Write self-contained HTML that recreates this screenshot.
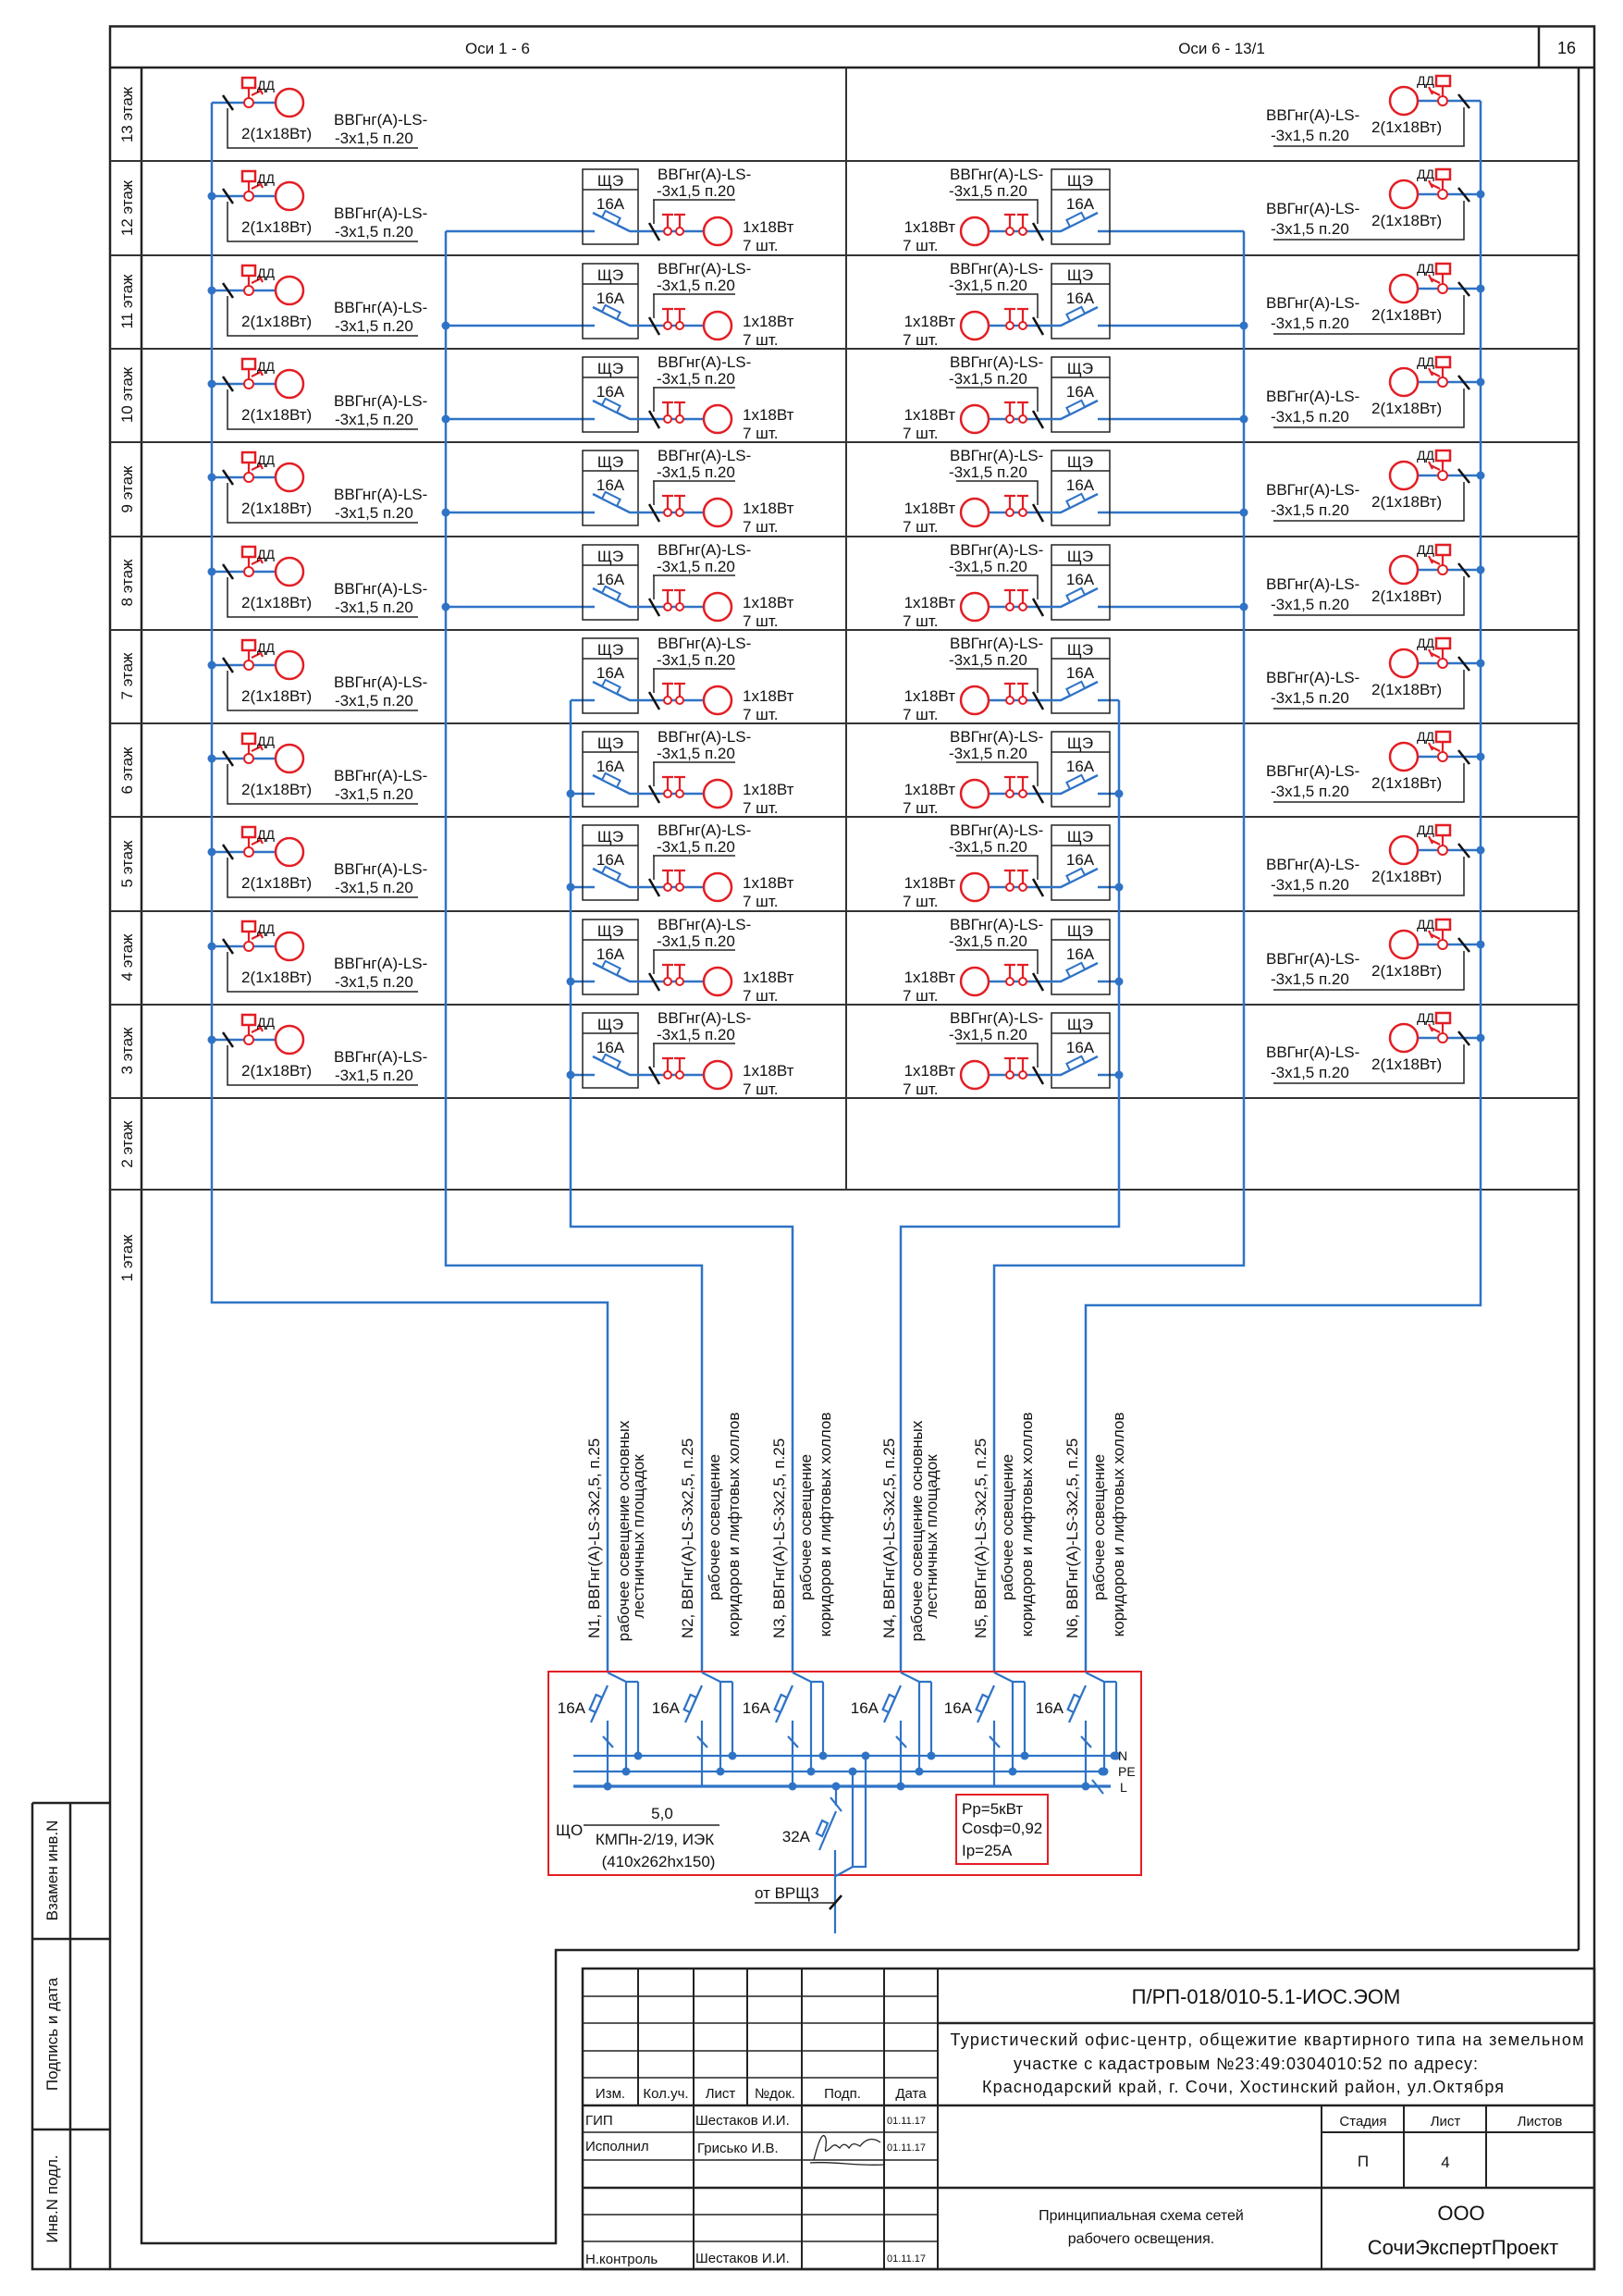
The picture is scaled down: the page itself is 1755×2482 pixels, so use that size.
<!DOCTYPE html>
<html><head><meta charset="utf-8">
<style>
html,body{margin:0;padding:0;background:#fff;}
svg{display:block;}
text{font-family:"Liberation Sans",sans-serif;font-size:17px;fill:#111;}
.s{font-size:14px;}
.m{text-anchor:middle;}
.e{text-anchor:end;}
.t15{font-size:15px;}
.t11{font-size:11px;}
</style></head><body>
<svg width="1755" height="2482" viewBox="0 0 1755 2482" xmlns="http://www.w3.org/2000/svg">
<defs>
<g id="LF">
 <path d="M229,38 H298" stroke="#2f73c6" stroke-width="2.5" fill="none"/>
 <path d="M241,30 L252,46" stroke="#111" stroke-width="2.5"/>
 <path d="M246,44 V87 H452" stroke="#222" stroke-width="1.5" fill="none"/>
 <path d="M269,33 V22 M272,30 L282,25 M280,21 L284,29" stroke="#e31e24" stroke-width="2.2" fill="none"/>
 <rect x="262" y="11" width="14" height="11" stroke="#e31e24" stroke-width="2.5" fill="#fff"/>
 <circle cx="269" cy="38" r="5" stroke="#e31e24" stroke-width="2" fill="#fff"/>
 <circle cx="313" cy="38" r="15" stroke="#e31e24" stroke-width="2.5" fill="none"/>
</g>
<g id="RF">
 <path d="M1533,36 H1601" stroke="#2f73c6" stroke-width="2.5" fill="none"/>
 <path d="M1577,29 L1589,44" stroke="#111" stroke-width="2.5"/>
 <path d="M1583,43 V85 H1377" stroke="#222" stroke-width="1.5" fill="none"/>
 <path d="M1560,31 V20 M1557,30 L1547,25 M1545,21 L1549,29" stroke="#e31e24" stroke-width="2.2" fill="none"/>
 <rect x="1553" y="9" width="15" height="11" stroke="#e31e24" stroke-width="2.5" fill="#fff"/>
 <circle cx="1560" cy="36" r="5" stroke="#e31e24" stroke-width="2" fill="#fff"/>
 <circle cx="1518" cy="36" r="15" stroke="#e31e24" stroke-width="2.5" fill="none"/>
</g>
<g id="ML">
 <rect x="630" y="9" width="60" height="81" stroke="#222" stroke-width="1.5" fill="none"/>
 <path d="M630,31 H690" stroke="#222" stroke-width="1.5"/>
 <path d="M641,56 L681,76 H761" stroke="#2f73c6" stroke-width="2.5" fill="none"/>
 <polygon points="651,61 667,69 670.6,61.8 654.6,53.8" stroke="#2f73c6" stroke-width="2" fill="#fff"/>
 <path d="M706,42 H795 M707,42 V68" stroke="#222" stroke-width="1.5" fill="none"/>
 <path d="M702,67 L713,86" stroke="#111" stroke-width="2.5"/>
 <path d="M722,58 V72 M735,58 V72 M716,58 H728 M729,58 H741" stroke="#e31e24" stroke-width="2.2" fill="none"/>
 <circle cx="722" cy="76" r="4" stroke="#e31e24" stroke-width="2" fill="#fff"/>
 <circle cx="735" cy="76" r="4" stroke="#e31e24" stroke-width="2" fill="#fff"/>
 <circle cx="776" cy="76" r="15" stroke="#e31e24" stroke-width="2.5" fill="none"/>
</g>
<g id="MR">
 <rect x="1137" y="9" width="63" height="81" stroke="#222" stroke-width="1.5" fill="none"/>
 <path d="M1137,31 H1200" stroke="#222" stroke-width="1.5"/>
 <path d="M1069,76 H1147 L1187,56" stroke="#2f73c6" stroke-width="2.5" fill="none"/>
 <polygon points="1157,71 1173,63 1169.4,55.8 1153.4,63.8" stroke="#2f73c6" stroke-width="2" fill="#fff"/>
 <path d="M1034,42 H1122 V68" stroke="#222" stroke-width="1.5" fill="none"/>
 <path d="M1117,67 L1128,86" stroke="#111" stroke-width="2.5"/>
 <path d="M1092,58 V72 M1106,58 V72 M1086,58 H1098 M1100,58 H1112" stroke="#e31e24" stroke-width="2.2" fill="none"/>
 <circle cx="1092" cy="76" r="4" stroke="#e31e24" stroke-width="2" fill="#fff"/>
 <circle cx="1106" cy="76" r="4" stroke="#e31e24" stroke-width="2" fill="#fff"/>
 <circle cx="1054" cy="76" r="15" stroke="#e31e24" stroke-width="2.5" fill="none"/>
</g>
<g id="BRK" fill="none" stroke="#2f73c6" stroke-width="2.2">
 <path d="M0,1808 L20,1818 H33 M20,1818 V1915 M33,1818 V1898 M0,1822 L-18,1862 M0,1860 V1931 M-5,1877 L6,1889"/>
 <polygon points="-6,1835 -13,1851 -19.4,1848 -12.4,1832" fill="#fff"/>
 <circle cx="20" cy="1915" r="4.5" fill="#2f73c6" stroke="none"/>
 <circle cx="33" cy="1898" r="4.5" fill="#2f73c6" stroke="none"/>
</g>
</defs>

<!-- frame -->
<g fill="none" stroke="#222" stroke-width="2.5">
 <rect x="119" y="28.5" width="1605" height="2424.5"/>
 <path d="M119,73 H1724 M1664,28.5 V73 M1707,73 V2108"/>
 <path d="M153,73 V2425 H601 V2108 H1707"/>
 <path d="M35,1949 H119 M35,1949 V2453 H119 M76,1949 V2453 M35,2096 H119 M35,2302 H119"/>
</g>
<g stroke="#333" stroke-width="2">
 <path d="M119,174 H1707 M119,276 H1707 M119,377 H1707 M119,478 H1707 M119,580 H1707 M119,681 H1707 M119,782 H1707 M119,883 H1707 M119,985 H1707 M119,1086 H1707 M119,1187 H1707 M119,1286 H1707"/>
 <path d="M915,73 V1286"/>
</g>
<text x="538" y="58" class="m">Оси 1 - 6</text>
<text x="1321" y="58" class="m">Оси 6 - 13/1</text>
<text x="1694" y="58" class="m" style="font-size:18px">16</text>

<!-- floor labels -->
<g>
<text class="m" transform="translate(143,124) rotate(-90)">13 этаж</text>
<text class="m" transform="translate(143,225) rotate(-90)">12 этаж</text>
<text class="m" transform="translate(143,326) rotate(-90)">11 этаж</text>
<text class="m" transform="translate(143,427) rotate(-90)">10 этаж</text>
<text class="m" transform="translate(143,529) rotate(-90)">9 этаж</text>
<text class="m" transform="translate(143,630) rotate(-90)">8 этаж</text>
<text class="m" transform="translate(143,731) rotate(-90)">7 этаж</text>
<text class="m" transform="translate(143,833) rotate(-90)">6 этаж</text>
<text class="m" transform="translate(143,934) rotate(-90)">5 этаж</text>
<text class="m" transform="translate(143,1035) rotate(-90)">4 этаж</text>
<text class="m" transform="translate(143,1136) rotate(-90)">3 этаж</text>
<text class="m" transform="translate(143,1237) rotate(-90)">2 этаж</text>
<text class="m" transform="translate(143,1360) rotate(-90)">1 этаж</text>
</g>

<!-- risers -->
<g fill="none" stroke="#2f73c6" stroke-width="2.5">
 <path d="M229,111 V1408 H657 V1808"/>
 <path d="M482,250 V1368 H759 V1808"/>
 <path d="M617,757 V1326 H857 V1808"/>
 <path d="M1210,757 V1326 H974 V1808"/>
 <path d="M1345,250 V1368 H1075 V1808"/>
 <path d="M1601,109 V1411 H1174 V1808"/>
 <path d="M482,250 H643 M482,352 H643 M482,453 H643 M482,554 H643 M482,656 H643"/>
 <path d="M1187,250 H1345 M1187,352 H1345 M1187,453 H1345 M1187,554 H1345 M1187,656 H1345"/>
 <path d="M617,757 H643 M617,858 H643 M617,959 H643 M617,1061 H643 M617,1162 H643"/>
 <path d="M1187,757 H1210 M1187,858 H1210 M1187,959 H1210 M1187,1061 H1210 M1187,1162 H1210"/>
</g>
<g fill="#2f73c6">
 <circle cx="229" cy="212" r="4.5"/><circle cx="229" cy="314" r="4.5"/><circle cx="229" cy="415" r="4.5"/><circle cx="229" cy="516" r="4.5"/><circle cx="229" cy="618" r="4.5"/><circle cx="229" cy="719" r="4.5"/><circle cx="229" cy="820" r="4.5"/><circle cx="229" cy="921" r="4.5"/><circle cx="229" cy="1023" r="4.5"/><circle cx="229" cy="1124" r="4.5"/>
 <circle cx="1601" cy="210" r="4.5"/><circle cx="1601" cy="312" r="4.5"/><circle cx="1601" cy="413" r="4.5"/><circle cx="1601" cy="514" r="4.5"/><circle cx="1601" cy="616" r="4.5"/><circle cx="1601" cy="717" r="4.5"/><circle cx="1601" cy="818" r="4.5"/><circle cx="1601" cy="919" r="4.5"/><circle cx="1601" cy="1021" r="4.5"/><circle cx="1601" cy="1122" r="4.5"/>
 <circle cx="482" cy="352" r="4.5"/><circle cx="482" cy="453" r="4.5"/><circle cx="482" cy="554" r="4.5"/><circle cx="482" cy="656" r="4.5"/>
 <circle cx="1345" cy="352" r="4.5"/><circle cx="1345" cy="453" r="4.5"/><circle cx="1345" cy="554" r="4.5"/><circle cx="1345" cy="656" r="4.5"/>
 <circle cx="617" cy="858" r="4.5"/><circle cx="617" cy="959" r="4.5"/><circle cx="617" cy="1061" r="4.5"/><circle cx="617" cy="1162" r="4.5"/>
 <circle cx="1210" cy="858" r="4.5"/><circle cx="1210" cy="959" r="4.5"/><circle cx="1210" cy="1061" r="4.5"/><circle cx="1210" cy="1162" r="4.5"/>
</g>

<!-- floor 13 -->
<g transform="translate(0,73)">
<use href="#LF"/><use href="#RF"/>
<text x="278" y="24" class="s">ДД</text><text x="261" y="77">2(1х18Вт)</text>
<text x="361" y="62">ВВГнг(А)-LS-</text><text x="362" y="82">-3х1,5 п.20</text>
<text x="1551" y="19" class="e s">ДД</text><text x="1483" y="70">2(1х18Вт)</text>
<text x="1369" y="57">ВВГнг(А)-LS-</text><text x="1374" y="79">-3х1,5 п.20</text>
</g>

<g transform="translate(0,174)">
<use href="#LF"/><use href="#ML"/><use href="#MR"/><use href="#RF"/>
<text x="278" y="24" class="s">ДД</text><text x="261" y="77">2(1х18Вт)</text>
<text x="361" y="62">ВВГнг(А)-LS-</text><text x="362" y="82">-3х1,5 п.20</text>
<text x="660" y="27" class="m">ЩЭ</text><text x="660" y="52" class="m">16А</text>
<text x="711" y="20">ВВГнг(А)-LS-</text><text x="710" y="38">-3х1,5 п.20</text>
<text x="803" y="77">1х18Вт</text><text x="803" y="97">7 шт.</text>
<text x="1033" y="77" class="e">1х18Вт</text><text x="976" y="97">7 шт.</text>
<text x="1168" y="27" class="m">ЩЭ</text><text x="1168" y="52" class="m">16А</text>
<text x="1027" y="20">ВВГнг(А)-LS-</text><text x="1026" y="38">-3х1,5 п.20</text>
<text x="1551" y="19" class="e s">ДД</text><text x="1483" y="70">2(1х18Вт)</text>
<text x="1369" y="57">ВВГнг(А)-LS-</text><text x="1374" y="79">-3х1,5 п.20</text>
</g>
<g transform="translate(0,276)">
<use href="#LF"/><use href="#ML"/><use href="#MR"/><use href="#RF"/>
<text x="278" y="24" class="s">ДД</text><text x="261" y="77">2(1х18Вт)</text>
<text x="361" y="62">ВВГнг(А)-LS-</text><text x="362" y="82">-3х1,5 п.20</text>
<text x="660" y="27" class="m">ЩЭ</text><text x="660" y="52" class="m">16А</text>
<text x="711" y="20">ВВГнг(А)-LS-</text><text x="710" y="38">-3х1,5 п.20</text>
<text x="803" y="77">1х18Вт</text><text x="803" y="97">7 шт.</text>
<text x="1033" y="77" class="e">1х18Вт</text><text x="976" y="97">7 шт.</text>
<text x="1168" y="27" class="m">ЩЭ</text><text x="1168" y="52" class="m">16А</text>
<text x="1027" y="20">ВВГнг(А)-LS-</text><text x="1026" y="38">-3х1,5 п.20</text>
<text x="1551" y="19" class="e s">ДД</text><text x="1483" y="70">2(1х18Вт)</text>
<text x="1369" y="57">ВВГнг(А)-LS-</text><text x="1374" y="79">-3х1,5 п.20</text>
</g>
<g transform="translate(0,377)">
<use href="#LF"/><use href="#ML"/><use href="#MR"/><use href="#RF"/>
<text x="278" y="24" class="s">ДД</text><text x="261" y="77">2(1х18Вт)</text>
<text x="361" y="62">ВВГнг(А)-LS-</text><text x="362" y="82">-3х1,5 п.20</text>
<text x="660" y="27" class="m">ЩЭ</text><text x="660" y="52" class="m">16А</text>
<text x="711" y="20">ВВГнг(А)-LS-</text><text x="710" y="38">-3х1,5 п.20</text>
<text x="803" y="77">1х18Вт</text><text x="803" y="97">7 шт.</text>
<text x="1033" y="77" class="e">1х18Вт</text><text x="976" y="97">7 шт.</text>
<text x="1168" y="27" class="m">ЩЭ</text><text x="1168" y="52" class="m">16А</text>
<text x="1027" y="20">ВВГнг(А)-LS-</text><text x="1026" y="38">-3х1,5 п.20</text>
<text x="1551" y="19" class="e s">ДД</text><text x="1483" y="70">2(1х18Вт)</text>
<text x="1369" y="57">ВВГнг(А)-LS-</text><text x="1374" y="79">-3х1,5 п.20</text>
</g>
<g transform="translate(0,478)">
<use href="#LF"/><use href="#ML"/><use href="#MR"/><use href="#RF"/>
<text x="278" y="24" class="s">ДД</text><text x="261" y="77">2(1х18Вт)</text>
<text x="361" y="62">ВВГнг(А)-LS-</text><text x="362" y="82">-3х1,5 п.20</text>
<text x="660" y="27" class="m">ЩЭ</text><text x="660" y="52" class="m">16А</text>
<text x="711" y="20">ВВГнг(А)-LS-</text><text x="710" y="38">-3х1,5 п.20</text>
<text x="803" y="77">1х18Вт</text><text x="803" y="97">7 шт.</text>
<text x="1033" y="77" class="e">1х18Вт</text><text x="976" y="97">7 шт.</text>
<text x="1168" y="27" class="m">ЩЭ</text><text x="1168" y="52" class="m">16А</text>
<text x="1027" y="20">ВВГнг(А)-LS-</text><text x="1026" y="38">-3х1,5 п.20</text>
<text x="1551" y="19" class="e s">ДД</text><text x="1483" y="70">2(1х18Вт)</text>
<text x="1369" y="57">ВВГнг(А)-LS-</text><text x="1374" y="79">-3х1,5 п.20</text>
</g>
<g transform="translate(0,580)">
<use href="#LF"/><use href="#ML"/><use href="#MR"/><use href="#RF"/>
<text x="278" y="24" class="s">ДД</text><text x="261" y="77">2(1х18Вт)</text>
<text x="361" y="62">ВВГнг(А)-LS-</text><text x="362" y="82">-3х1,5 п.20</text>
<text x="660" y="27" class="m">ЩЭ</text><text x="660" y="52" class="m">16А</text>
<text x="711" y="20">ВВГнг(А)-LS-</text><text x="710" y="38">-3х1,5 п.20</text>
<text x="803" y="77">1х18Вт</text><text x="803" y="97">7 шт.</text>
<text x="1033" y="77" class="e">1х18Вт</text><text x="976" y="97">7 шт.</text>
<text x="1168" y="27" class="m">ЩЭ</text><text x="1168" y="52" class="m">16А</text>
<text x="1027" y="20">ВВГнг(А)-LS-</text><text x="1026" y="38">-3х1,5 п.20</text>
<text x="1551" y="19" class="e s">ДД</text><text x="1483" y="70">2(1х18Вт)</text>
<text x="1369" y="57">ВВГнг(А)-LS-</text><text x="1374" y="79">-3х1,5 п.20</text>
</g>
<g transform="translate(0,681)">
<use href="#LF"/><use href="#ML"/><use href="#MR"/><use href="#RF"/>
<text x="278" y="24" class="s">ДД</text><text x="261" y="77">2(1х18Вт)</text>
<text x="361" y="62">ВВГнг(А)-LS-</text><text x="362" y="82">-3х1,5 п.20</text>
<text x="660" y="27" class="m">ЩЭ</text><text x="660" y="52" class="m">16А</text>
<text x="711" y="20">ВВГнг(А)-LS-</text><text x="710" y="38">-3х1,5 п.20</text>
<text x="803" y="77">1х18Вт</text><text x="803" y="97">7 шт.</text>
<text x="1033" y="77" class="e">1х18Вт</text><text x="976" y="97">7 шт.</text>
<text x="1168" y="27" class="m">ЩЭ</text><text x="1168" y="52" class="m">16А</text>
<text x="1027" y="20">ВВГнг(А)-LS-</text><text x="1026" y="38">-3х1,5 п.20</text>
<text x="1551" y="19" class="e s">ДД</text><text x="1483" y="70">2(1х18Вт)</text>
<text x="1369" y="57">ВВГнг(А)-LS-</text><text x="1374" y="79">-3х1,5 п.20</text>
</g>
<g transform="translate(0,782)">
<use href="#LF"/><use href="#ML"/><use href="#MR"/><use href="#RF"/>
<text x="278" y="24" class="s">ДД</text><text x="261" y="77">2(1х18Вт)</text>
<text x="361" y="62">ВВГнг(А)-LS-</text><text x="362" y="82">-3х1,5 п.20</text>
<text x="660" y="27" class="m">ЩЭ</text><text x="660" y="52" class="m">16А</text>
<text x="711" y="20">ВВГнг(А)-LS-</text><text x="710" y="38">-3х1,5 п.20</text>
<text x="803" y="77">1х18Вт</text><text x="803" y="97">7 шт.</text>
<text x="1033" y="77" class="e">1х18Вт</text><text x="976" y="97">7 шт.</text>
<text x="1168" y="27" class="m">ЩЭ</text><text x="1168" y="52" class="m">16А</text>
<text x="1027" y="20">ВВГнг(А)-LS-</text><text x="1026" y="38">-3х1,5 п.20</text>
<text x="1551" y="19" class="e s">ДД</text><text x="1483" y="70">2(1х18Вт)</text>
<text x="1369" y="57">ВВГнг(А)-LS-</text><text x="1374" y="79">-3х1,5 п.20</text>
</g>
<g transform="translate(0,883)">
<use href="#LF"/><use href="#ML"/><use href="#MR"/><use href="#RF"/>
<text x="278" y="24" class="s">ДД</text><text x="261" y="77">2(1х18Вт)</text>
<text x="361" y="62">ВВГнг(А)-LS-</text><text x="362" y="82">-3х1,5 п.20</text>
<text x="660" y="27" class="m">ЩЭ</text><text x="660" y="52" class="m">16А</text>
<text x="711" y="20">ВВГнг(А)-LS-</text><text x="710" y="38">-3х1,5 п.20</text>
<text x="803" y="77">1х18Вт</text><text x="803" y="97">7 шт.</text>
<text x="1033" y="77" class="e">1х18Вт</text><text x="976" y="97">7 шт.</text>
<text x="1168" y="27" class="m">ЩЭ</text><text x="1168" y="52" class="m">16А</text>
<text x="1027" y="20">ВВГнг(А)-LS-</text><text x="1026" y="38">-3х1,5 п.20</text>
<text x="1551" y="19" class="e s">ДД</text><text x="1483" y="70">2(1х18Вт)</text>
<text x="1369" y="57">ВВГнг(А)-LS-</text><text x="1374" y="79">-3х1,5 п.20</text>
</g>
<g transform="translate(0,985)">
<use href="#LF"/><use href="#ML"/><use href="#MR"/><use href="#RF"/>
<text x="278" y="24" class="s">ДД</text><text x="261" y="77">2(1х18Вт)</text>
<text x="361" y="62">ВВГнг(А)-LS-</text><text x="362" y="82">-3х1,5 п.20</text>
<text x="660" y="27" class="m">ЩЭ</text><text x="660" y="52" class="m">16А</text>
<text x="711" y="20">ВВГнг(А)-LS-</text><text x="710" y="38">-3х1,5 п.20</text>
<text x="803" y="77">1х18Вт</text><text x="803" y="97">7 шт.</text>
<text x="1033" y="77" class="e">1х18Вт</text><text x="976" y="97">7 шт.</text>
<text x="1168" y="27" class="m">ЩЭ</text><text x="1168" y="52" class="m">16А</text>
<text x="1027" y="20">ВВГнг(А)-LS-</text><text x="1026" y="38">-3х1,5 п.20</text>
<text x="1551" y="19" class="e s">ДД</text><text x="1483" y="70">2(1х18Вт)</text>
<text x="1369" y="57">ВВГнг(А)-LS-</text><text x="1374" y="79">-3х1,5 п.20</text>
</g>
<g transform="translate(0,1086)">
<use href="#LF"/><use href="#ML"/><use href="#MR"/><use href="#RF"/>
<text x="278" y="24" class="s">ДД</text><text x="261" y="77">2(1х18Вт)</text>
<text x="361" y="62">ВВГнг(А)-LS-</text><text x="362" y="82">-3х1,5 п.20</text>
<text x="660" y="27" class="m">ЩЭ</text><text x="660" y="52" class="m">16А</text>
<text x="711" y="20">ВВГнг(А)-LS-</text><text x="710" y="38">-3х1,5 п.20</text>
<text x="803" y="77">1х18Вт</text><text x="803" y="97">7 шт.</text>
<text x="1033" y="77" class="e">1х18Вт</text><text x="976" y="97">7 шт.</text>
<text x="1168" y="27" class="m">ЩЭ</text><text x="1168" y="52" class="m">16А</text>
<text x="1027" y="20">ВВГнг(А)-LS-</text><text x="1026" y="38">-3х1,5 п.20</text>
<text x="1551" y="19" class="e s">ДД</text><text x="1483" y="70">2(1х18Вт)</text>
<text x="1369" y="57">ВВГнг(А)-LS-</text><text x="1374" y="79">-3х1,5 п.20</text>
</g>

<!-- rotated feeder labels -->
<g>
<text class="m" transform="translate(648,1663) rotate(-90)">N1, ВВГнг(А)-LS-3х2,5, п.25</text>
<text class="m" transform="translate(680,1655) rotate(-90)">рабочее освещение основных</text>
<text class="m" transform="translate(696,1661) rotate(-90)">лестничных площадок</text>
<text class="m" transform="translate(749,1663) rotate(-90)">N2, ВВГнг(А)-LS-3х2,5, п.25</text>
<text class="m" transform="translate(778,1651) rotate(-90)">рабочее освещение</text>
<text class="m" transform="translate(799,1648) rotate(-90)">коридоров и лифтовых холлов</text>
<text class="m" transform="translate(848,1663) rotate(-90)">N3, ВВГнг(А)-LS-3х2,5, п.25</text>
<text class="m" transform="translate(877,1651) rotate(-90)">рабочее освещение</text>
<text class="m" transform="translate(898,1648) rotate(-90)">коридоров и лифтовых холлов</text>
<text class="m" transform="translate(967,1663) rotate(-90)">N4, ВВГнг(А)-LS-3х2,5, п.25</text>
<text class="m" transform="translate(997,1655) rotate(-90)">рабочее освещение основных</text>
<text class="m" transform="translate(1013,1661) rotate(-90)">лестничных площадок</text>
<text class="m" transform="translate(1066,1663) rotate(-90)">N5, ВВГнг(А)-LS-3х2,5, п.25</text>
<text class="m" transform="translate(1095,1651) rotate(-90)">рабочее освещение</text>
<text class="m" transform="translate(1116,1648) rotate(-90)">коридоров и лифтовых холлов</text>
<text class="m" transform="translate(1165,1663) rotate(-90)">N6, ВВГнг(А)-LS-3х2,5, п.25</text>
<text class="m" transform="translate(1194,1651) rotate(-90)">рабочее освещение</text>
<text class="m" transform="translate(1215,1648) rotate(-90)">коридоров и лифтовых холлов</text>
</g>

<!-- switchboard -->
<rect x="593" y="1807" width="641" height="220" fill="none" stroke="#e31e24" stroke-width="2"/>
<g fill="none" stroke="#2f73c6">
 <path d="M620,1898 H1205 M620,1915 H1192" stroke-width="2.2"/>
 <path d="M620,1931 H1201" stroke-width="3.2"/>
 <path d="M1181,1924 L1193,1939" stroke-width="2.2"/>
</g>
<use href="#BRK" transform="translate(657,0)"/>
<use href="#BRK" transform="translate(759,0)"/>
<use href="#BRK" transform="translate(857,0)"/>
<use href="#BRK" transform="translate(974,0)"/>
<use href="#BRK" transform="translate(1075,0)"/>
<use href="#BRK" transform="translate(1174,0)"/>
<g fill="#2f73c6">
 <circle cx="657" cy="1931" r="4.5"/><circle cx="857" cy="1931" r="4.5"/><circle cx="974" cy="1931" r="4.5"/><circle cx="1174" cy="1931" r="4.5"/>
 <circle cx="904" cy="1931" r="4.5"/><circle cx="922" cy="1915" r="4.5"/><circle cx="936" cy="1898" r="4.5"/>
 <circle cx="1205" cy="1898" r="4.5"/><circle cx="1192" cy="1915" r="4.5"/>
</g>
<g fill="none" stroke="#2f73c6" stroke-width="2.2">
 <path d="M904,1931 V1952 M898,1943 L910,1958 M904,1958 L886,2000 M903,2000 V2090"/>
 <polygon points="895,1971 889,1985 883,1982 889,1968" fill="#fff"/>
 <path d="M922,1915 V2018 M936,1898 V2018 H922 L904,2028"/>
</g>
<path d="M897,2064 L910,2049" stroke="#111" stroke-width="2.5"/>
<path d="M816,2057 H903" stroke="#222" stroke-width="1.5"/>
<text x="816" y="2052">от ВРЩ3</text>
<g>
<text x="633" y="1852" class="e">16А</text>
<text x="735" y="1852" class="e">16А</text>
<text x="833" y="1852" class="e">16А</text>
<text x="950" y="1852" class="e">16А</text>
<text x="1051" y="1852" class="e">16А</text>
<text x="1150" y="1852" class="e">16А</text>
<text x="876" y="1991" class="e">32А</text>
<text x="1209" y="1903" class="s">N</text>
<text x="1209" y="1920" class="s">PE</text>
<text x="1211" y="1937" class="s">L</text>
</g>
<text x="601" y="1984">ЩО</text>
<path d="M631,1973 H778" stroke="#222" stroke-width="1.5"/>
<text x="716" y="1966" class="m">5,0</text>
<text x="708" y="1994" class="m">КМПн-2/19, ИЭК</text>
<text x="712" y="2018" class="m">(410х262hх150)</text>
<rect x="1034" y="1940" width="99" height="75" fill="none" stroke="#e31e24" stroke-width="2"/>
<text x="1040" y="1961">Рр=5кВт</text>
<text x="1040" y="1982">Cosф=0,92</text>
<text x="1040" y="2006">Iр=25А</text>

<!-- left stamp -->
<text class="m" transform="translate(62,2022) rotate(-90)">Взамен инв.N</text>
<text class="m" transform="translate(62,2199) rotate(-90)">Подпись и дата</text>
<text class="m" transform="translate(62,2377) rotate(-90)">Инв.N подл.</text>

<!-- title block -->
<g fill="none" stroke="#222">
 <rect x="630" y="2128" width="1094" height="325" stroke-width="2.5"/>
 <path d="M690,2128 V2276 M808,2128 V2276 M750,2128 V2453 M867,2128 V2453 M956,2128 V2453 M1014,2128 V2453" stroke-width="2"/>
 <path d="M630,2158 H1014 M630,2187 H1014 M630,2217 H1014 M630,2246 H1014 M630,2305 H1014 M630,2335 H1014 M630,2394 H1014 M630,2423 H1014" stroke-width="1.5"/>
 <path d="M630,2276 H1724 M630,2365 H1724 M1014,2187 H1724" stroke-width="2.5"/>
 <path d="M1429,2276 V2453 M1518,2276 V2365 M1607,2276 V2365 M1429,2305 H1724" stroke-width="2"/>
</g>
<text x="660" y="2268" class="m t15">Изм.</text>
<text x="720" y="2268" class="m t15">Кол.уч.</text>
<text x="779" y="2268" class="m t15">Лист</text>
<text x="838" y="2268" class="m t15">№док.</text>
<text x="911" y="2268" class="m t15">Подп.</text>
<text x="985" y="2268" class="m t15">Дата</text>
<text x="633" y="2297" class="t15">ГИП</text>
<text x="752" y="2297" class="t15">Шестаков И.И.</text>
<text x="959" y="2296" class="t11">01.11.17</text>
<text x="633" y="2325" class="t15">Исполнил</text>
<text x="754" y="2327" class="t15">Грисько И.В.</text>
<text x="959" y="2325" class="t11">01.11.17</text>
<text x="633" y="2447" class="t15">Н.контроль</text>
<text x="752" y="2446" class="t15">Шестаков И.И.</text>
<text x="959" y="2445" class="t11">01.11.17</text>
<path d="M880,2335 C885,2315 890,2302 893,2312 C895,2322 888,2330 898,2322 C903,2316 905,2320 908,2322 C912,2316 915,2318 918,2322 C922,2315 926,2318 930,2320 C936,2312 944,2310 952,2316 M876,2338 C900,2336 930,2342 956,2340" fill="none" stroke="#222" stroke-width="1.3"/>
<text x="1369" y="2166" class="m" style="font-size:22px">П/РП-018/010-5.1-ИОС.ЭОМ</text>
<text x="1370" y="2211" class="m" style="font-size:18px" textLength="685" lengthAdjust="spacing">Туристический офис-центр, общежитие квартирного типа на земельном</text>
<text x="1347" y="2237" class="m" style="font-size:18px" textLength="502" lengthAdjust="spacing">участке с кадастровым №23:49:0304010:52 по адресу:</text>
<text x="1344" y="2262" class="m" style="font-size:18px" textLength="564" lengthAdjust="spacing">Краснодарский край, г. Сочи, Хостинский район, ул.Октября</text>
<text x="1474" y="2298" class="m t15">Стадия</text>
<text x="1563" y="2298" class="m t15">Лист</text>
<text x="1665" y="2298" class="m t15">Листов</text>
<text x="1474" y="2342" class="m">П</text>
<text x="1563" y="2343" class="m">4</text>
<text x="1234" y="2400" class="m" style="font-size:16px">Принципиальная схема сетей</text>
<text x="1234" y="2425" class="m" style="font-size:16px">рабочего  освещения.</text>
<text x="1580" y="2400" class="m" style="font-size:22px">ООО</text>
<text x="1582" y="2437" class="m" style="font-size:22px">СочиЭкспертПроект</text>
</svg>
</body></html>
